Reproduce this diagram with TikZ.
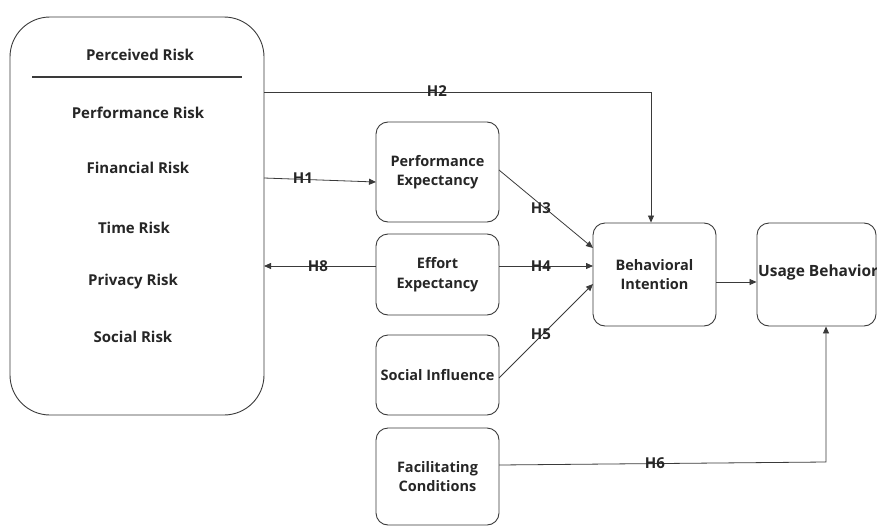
\documentclass[tikz,border=0pt]{standalone}
\usepackage{fontspec}
\setmainfont{Open Sans}
\usetikzlibrary{arrows.meta,calc}
\definecolor{ln}{HTML}{3A3A3A}
\definecolor{tx}{HTML}{262626}
\tikzset{
  box/.style={draw=ln,line width=0.9pt,rounded corners=12pt,align=center,text=tx,font=\bfseries\fontsize{14.5}{19.5}\selectfont,inner sep=0pt},
  item/.style={text=tx,font=\bfseries\fontsize{15}{17}\selectfont,inner sep=0pt},
  arr/.style={draw=ln,line width=0.8pt,-{Triangle[length=7pt,width=6pt]}},
  lbl/.style={text=tx,font=\bfseries\fontsize{15}{17}\selectfont,inner sep=0pt}
}
\begin{document}
\begin{tikzpicture}[x=1pt,y=-1pt]
\useasboundingbox (0,0) rectangle (877,527);
\clip (0,0) rectangle (877,527);
% big box
\node[draw=ln,line width=0.9pt,rounded corners=40pt,minimum width=254pt,minimum height=398pt,inner sep=0pt] (pr) at (137,216) {};
\node[item] (prt) at (140,55) {Perceived Risk};
\draw[ln,line width=1.4pt] (32,77) coordinate (d1) -- (242,77) coordinate (d2);
\node[item] (r1) at (138,113) {Performance Risk};
\node[item] (r2) at (138,168) {Financial Risk};
\node[item] (r3) at (134,228) {Time Risk};
\node[item] (r4) at (133,282) {Privacy Risk};
\node[item] (r5) at (133,337) {Social Risk};
% boxes
\node[box,minimum width=123pt,minimum height=100pt] (pe) at (437.5,172) {Performance\\Expectancy};
\node[box,minimum width=123pt,minimum height=81pt] (ee) at (437.5,274.5) {Effort\\Expectancy};
\node[box,minimum width=123pt,minimum height=80pt] (si) at (437.5,375) {Social Influence};
\node[box,minimum width=123pt,minimum height=97pt] (fc) at (437.5,476.5) {Facilitating\\Conditions};
\node[box,minimum width=123pt,minimum height=103pt] (bi) at (654.5,274.5) {Behavioral\\Intention};
\node[box,minimum width=119pt,minimum height=103pt] (ub) at (816.5,274.5) {};
\node[text=tx,font=\bfseries\fontsize{15.5}{17}\selectfont,inner sep=0pt,anchor=west] (ubt) at (758,272) {Usage Behavior};
% coordinates
\coordinate (h2s) at (264,92);
\coordinate (h2c) at (651,92);
\coordinate (h1s) at (264,178);
\coordinate (h1e) at (376,182);
\coordinate (h8s) at (376,266);
\coordinate (h8e) at (264,266);
\coordinate (h3s) at (499,170);
\coordinate (h3e) at (593,248);
\coordinate (h4s) at (499,266);
\coordinate (h4e) at (593,266);
\coordinate (h5s) at (499,378);
\coordinate (h5e) at (593,284);
\coordinate (h6s) at (499,465);
\coordinate (h6c) at (826,462);
% connectors
\draw[arr] (h2s) -- (h2c) -- (h2c |- bi.north);
\node[lbl] (l2) at (437,91) {H2};
\draw[arr] (h1s) -- (h1e);
\node[lbl] (l1) at (303,178.5) {H1};
\draw[arr] (h8s) -- (h8e);
\node[lbl] (l8) at (318,266) {H8};
\draw[arr] (h3s) -- (h3e);
\node[lbl] (l3) at (541,208) {H3};
\draw[arr] (h4s) -- (h4e);
\node[lbl] (l4) at (541,266) {H4};
\draw[arr] (h5s) -- (h5e);
\node[lbl] (l5) at (541,334) {H5};
\draw[arr] (bi.east |- 0,282) -- (ub.west |- 0,282);
\draw[arr] (h6s) -- (h6c) -- (h6c |- ub.south);
\node[lbl] (l6) at (655,463) {H6};
\end{tikzpicture}
\end{document}
